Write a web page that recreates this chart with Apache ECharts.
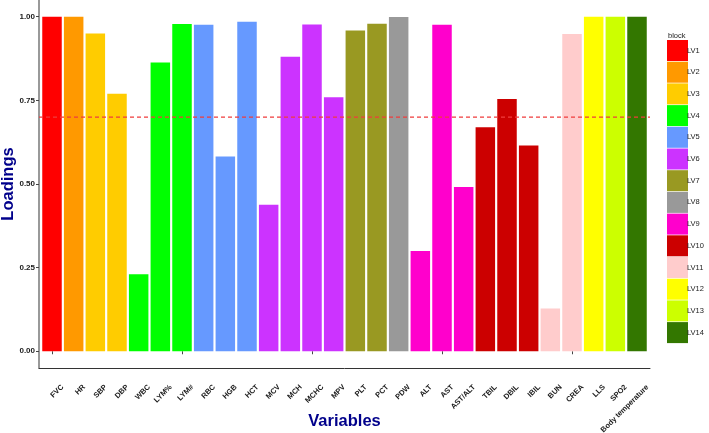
<!DOCTYPE html>
<html>
<head>
<meta charset="utf-8">
<script src="https://cdn.jsdelivr.net/npm/echarts@6/dist/echarts.min.js"></script>
<style>html,body{margin:0;padding:0;background:#fff}#c{width:709px;height:433px}</style>
</head>
<body>
<div id="c"></div>
<script>
var categories = ['FVC','HR','SBP','DBP','WBC','LYM%','LYM#','RBC','HGB','HCT','MCV','MCH','MCHC','MPV','PLT','PCT','PDW','ALT','AST','AST/ALT','TBIL','DBIL','IBIL','BUN','CREA','LLS','SPO2','Body temperature'];
var loadings = [1.00,1.00,0.950,0.770,0.230,0.863,0.978,0.976,0.582,0.985,0.438,0.880,0.977,0.759,0.959,0.979,0.999,0.300,0.976,0.491,0.670,0.754,0.615,0.128,0.948,1.00,1.00,1.00];
var blockOfCategory = ['LV1','LV2','LV3','LV3','LV4','LV4','LV4','LV5','LV5','LV5','LV6','LV6','LV6','LV6','LV7','LV7','LV8','LV9','LV9','LV9','LV10','LV10','LV10','LV11','LV11','LV12','LV13','LV14'];
var blockNames = ['LV1','LV2','LV3','LV4','LV5','LV6','LV7','LV8','LV9','LV10','LV11','LV12','LV13','LV14'];
var blockColors = ['#FF0000','#FF9900','#FFCC00','#00FF00','#6699FF','#CC33FF','#999922','#999999','#FF00CC','#CC0000','#FFCCCC','#FFFF00','#CCFF00','#337700'];
var yTicks = [0, 0.25, 0.5, 0.75, 1];
var threshold = 0.7;
var thresholdColor = '#F03C3C';

var series = blockNames.map(function (b, bi) {
  return {
    name: b,
    type: 'bar',
    stack: 'all',
    xAxisIndex: 0,
    yAxisIndex: 0,
    barWidth: '90%',
    itemStyle: { color: blockColors[bi] },
    emphasis: { disabled: true },
    data: loadings.map(function (v, i) { return blockOfCategory[i] === b ? v : '-'; })
  };
});
series.push({
  name: 'threshold',
  type: 'line',
  xAxisIndex: 1,
  yAxisIndex: 1,
  data: [[0, threshold], [1, threshold]],
  silent: true,
  showSymbol: false,
  symbol: 'none',
  z: 5,
  emphasis: { disabled: true },
  lineStyle: { color: thresholdColor, type: [4, 3], width: 1.1 }
});

var chart = echarts.init(document.getElementById('c'), null, { renderer: 'canvas' });
chart.setOption({
  animation: false,
  backgroundColor: '#ffffff',
  textStyle: { fontFamily: 'Liberation Sans, Arial, sans-serif' },
  title: {
    text: 'block', left: 663, top: 27,
    textStyle: { fontSize: 7.5, fontWeight: 'normal', color: '#222' }
  },
  legend: {
    orient: 'vertical', left: 662, top: 35,
    itemWidth: 21, itemHeight: 21, itemGap: 0.7,
    icon: 'rect',
    data: blockNames,
    textStyle: { fontSize: 7.5, color: '#222', padding: [0, 0, 0, -6] },
    selectedMode: false
  },
  grid: [
    { left: 41.17, width: 606.67, top: 0, height: 368, containLabel: false, outerBoundsMode: 'none' },
    { left: 39, width: 611, top: 0, height: 368, containLabel: false, outerBoundsMode: 'none' },
    { left: 51.67, width: 606.67, top: 0, height: 368, containLabel: false, outerBoundsMode: 'none' }
  ],
  xAxis: [
    {
      type: 'category', gridIndex: 0, data: categories,
      axisLine: { show: false },
      axisTick: { show: true, alignWithLabel: true, length: 3, lineStyle: { color: '#444' } },
      axisLabel: { show: false },
      name: 'Variables', nameLocation: 'middle', nameGap: 45, nameMoveOverlap: false,
      nameTextStyle: { fontSize: 16.5, fontWeight: 'bold', color: '#00008B' }
    },
    {
      type: 'value', gridIndex: 1, min: 0, max: 1,
      axisLine: { show: true, onZero: false, lineStyle: { color: '#333', width: 1 } },
      axisTick: { show: false }, axisLabel: { show: false }, splitLine: { show: false }
    },
    {
      type: 'category', gridIndex: 2, data: categories,
      axisLine: { show: false }, axisTick: { show: false },
      axisLabel: { rotate: 45, interval: 0, fontSize: 7.5, fontWeight: 'bold', color: '#1a1a1a', margin: 18 }
    }
  ],
  yAxis: [
    {
      type: 'value', gridIndex: 0, min: -0.05, max: 1.05, offset: 2.17,
      axisLine: { show: true, onZero: false, lineStyle: { color: '#777', width: 1.5 } },
      axisTick: { show: true, length: 3, customValues: yTicks, lineStyle: { color: '#444' } },
      axisLabel: { customValues: yTicks, fontSize: 8, fontWeight: 'bold', color: '#1a1a1a', margin: 4,
        formatter: function (v) { return v.toFixed(2); } },
      splitLine: { show: false },
      name: 'Loadings', nameLocation: 'middle', nameGap: 22, nameRotate: 90, nameMoveOverlap: false,
      nameTextStyle: { fontSize: 16.5, fontWeight: 'bold', color: '#00008B' }
    },
    { type: 'value', gridIndex: 1, min: -0.05, max: 1.05, show: false },
    { type: 'value', gridIndex: 2, min: -0.05, max: 1.05, show: false }
  ],
  series: series
});
</script>
</body>
</html>
